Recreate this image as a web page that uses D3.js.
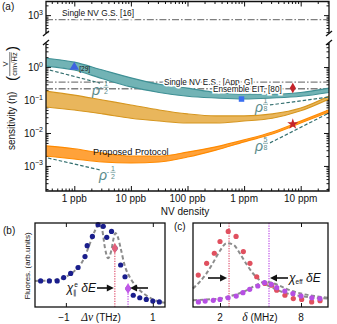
<!DOCTYPE html>
<html>
<head>
<meta charset="utf-8">
<script src="https://cdn.jsdelivr.net/npm/d3@7"></script>
<style>
  body { margin: 0; background: #fff; }
  text { font-family: "Liberation Sans", Arial, sans-serif; fill: #111; }
</style>
</head>
<body>
<div id="chart"></div>
<script>
// ---------- data: panel (a) ----------
const density = [0.316, 1, 3.16, 10, 31.6, 100, 316, 1000, 3162, 10000, 31623]; // ppb
const tealHi = [1.86, 1.41, 0.81, 0.47, 0.30, 0.23, 0.17, 0.15, 0.15, 0.17, 0.23];
const tealLo = [1.07, 0.81, 0.44, 0.25, 0.17, 0.13, 0.115, 0.107, 0.115, 0.13, 0.17];
const goldHi = [0.186, 0.141, 0.100, 0.071, 0.050, 0.038, 0.033, 0.033, 0.038, 0.057, 0.132];
const goldLo = [0.0617, 0.050, 0.038, 0.028, 0.023, 0.020, 0.020, 0.023, 0.028, 0.047, 0.107];
const protoHi = [0.00407, 0.00331, 0.00245, 0.00200, 0.00200, 0.00263, 0.00380, 0.00617, 0.0107, 0.0229, 0.0501];
const protoLo = [0.00200, 0.00162, 0.00132, 0.00123, 0.00132, 0.00186, 0.00302, 0.00537, 0.0093, 0.0200, 0.0437];

const refNames = ["Single NV G.S. [16]", "Single NV E.S., [App. G]", "Ensemble EIT, [80]"];
const refValues = [730, 0.35, 0.22];

const guideExp = [["-", "1", "2"], ["-", "1", "2"], ["", "1", "8"], ["", "5", "8"]];
const guideStart = [[0.37, 0.81], [0.343, 0.00174], [2866, 0.0708], [2866, 0.0050]];
const guideEnd = [[2.84, 0.327], [2.84, 0.00076], [31623, 0.123], [31623, 0.0405]];

const markerDensity = [1, 900, 7250, 7250];
const markerValue = [1.0, 0.107, 0.231, 0.0187];

const xTickVals = [1, 10, 100, 1000, 10000];
const xTickText = ["1 ppb", "10 ppb", "100 ppb", "1 ppm", "10 ppm"];
const yLoExp = [0, -1, -2, -3];
const yHiExp = [3];

// ---------- data: panel (b) ----------
const bDots = [[-1.58, 0.31], [-1.38, 0.31], [-1.20, 0.31], [-1.05, 0.35], [-0.89, 0.40], [-0.72, 0.47],
  [-0.56, 0.60], [-0.51, 0.73], [-0.39, 0.84], [-0.26, 0.98], [-0.14, 0.96], [-0.06, 0.83], [0.05, 0.90],
  [0.13, 0.70], [0.26, 0.50], [0.36, 0.36], [0.43, 0.22], [0.55, 0.14], [0.70, 0.11], [0.85, 0.09],
  [1.0, 0.07], [1.15, 0.06]];
const bFit = [[-1.71, 0.31], [-1.3, 0.32], [-1.0, 0.36], [-0.8, 0.43], [-0.6, 0.56], [-0.45, 0.75],
  [-0.32, 0.92], [-0.24, 0.99], [-0.17, 0.93], [-0.10, 0.70], [-0.03, 0.58], [0.04, 0.66], [0.10, 0.82],
  [0.14, 0.88], [0.19, 0.84], [0.26, 0.70], [0.35, 0.50], [0.5, 0.33], [0.7, 0.20], [0.9, 0.12],
  [1.1, 0.07], [1.28, 0.05]];
const bMarks = [[0.126, 0.70], [0.43, 0.22]];
const bTickVals = [-1, 1];

// ---------- data: panel (c) ----------
const cRed = [[0.39, 0.38], [1.01, 0.52], [1.58, 0.64], [2.0, 0.78], [2.61, 0.90], [3.19, 0.84], [3.73, 0.66],
  [4.22, 0.52], [4.72, 0.36], [5.33, 0.28], [5.83, 0.26], [6.2, 0.20], [6.81, 0.14], [7.43, 0.10],
  [8.05, 0.09], [8.79, 0.06], [9.41, 0.075]];
const cViolet = [[0.4, 0.06], [0.9, 0.07], [1.5, 0.08], [2.0, 0.09], [2.6, 0.11], [3.2, 0.13], [3.7, 0.17],
  [4.2, 0.21], [4.8, 0.25], [5.3, 0.29], [5.8, 0.27], [6.2, 0.23], [6.8, 0.19], [7.4, 0.16], [8.0, 0.13],
  [8.8, 0.11], [9.4, 0.10]];
const cFitRed = [[0, 0.22], [0.5, 0.30], [1, 0.40], [1.5, 0.53], [2, 0.67], [2.5, 0.76], [3, 0.74], [3.5, 0.63],
  [4, 0.50], [4.5, 0.39], [5, 0.31], [6, 0.22], [7, 0.16], [8, 0.13], [9, 0.11], [10, 0.10]];
const cFitViolet = [[0, 0.08], [1, 0.09], [2, 0.10], [3, 0.14], [4, 0.20], [4.8, 0.27], [5.4, 0.30], [6, 0.28],
  [7, 0.21], [8, 0.16], [9, 0.13], [10, 0.11]];
const cLines = [2.67, 5.63];
const cTickVals = [2, 8];

// ---------- svg ----------
const svg = d3.select("#chart").append("svg").attr("width", 337).attr("height", 324);

const x = d3.scaleLog().domain([Math.pow(10, -0.5), Math.pow(10, 4.5)]).range([46, 329]);
const yLo = d3.scaleLog().domain([Math.pow(10, -3.76), Math.pow(10, 0.73)]).range([191, 43]);
const yHi = d3.scaleLog().domain([Math.pow(10, 2.45), Math.pow(10, 3.42)]).range([33, 1.5]);

const isMajor = (v) => Math.abs(Math.log10(v) - Math.round(Math.log10(v))) < 1e-6;

svg.append("defs").append("clipPath").attr("id", "clipLo")
  .append("rect").attr("x", 46).attr("y", 43).attr("width", 283).attr("height", 148);
svg.append("defs").append("clipPath").attr("id", "clipHi")
  .append("rect").attr("x", 46).attr("y", 1.5).attr("width", 283).attr("height", 31.5);

// tick helper: inward ticks, no domain
function tickGroup(axisFn, scale, vals, size, tx, ty) {
  const g = svg.append("g").attr("transform", `translate(${tx},${ty})`)
    .call(axisFn(scale).tickValues(vals).tickSize(-size).tickFormat(""));
  g.select(".domain").remove();
  g.selectAll("line").attr("stroke", "#111").attr("stroke-width", 1);
  return g;
}

const xMinor = x.ticks().filter((v) => !isMajor(v));
const yLoMinor = yLo.ticks().filter((v) => !isMajor(v));
const yHiMinor = yHi.ticks().filter((v) => !isMajor(v));

tickGroup(d3.axisBottom, x, xMinor, 2.5, 0, 191);
tickGroup(d3.axisBottom, x, xTickVals, 5, 0, 191);
tickGroup(d3.axisTop, x, xMinor, 2.5, 0, 1.5);
tickGroup(d3.axisTop, x, xTickVals, 5, 0, 1.5);
tickGroup(d3.axisLeft, yLo, yLoMinor, 2.5, 46, 0);
tickGroup(d3.axisLeft, yLo, yLoExp.map((e) => Math.pow(10, e)), 5, 46, 0);
tickGroup(d3.axisRight, yLo, yLoMinor, 2.5, 329, 0);
tickGroup(d3.axisRight, yLo, yLoExp.map((e) => Math.pow(10, e)), 5, 329, 0);
tickGroup(d3.axisLeft, yHi, yHiMinor, 2.5, 46, 0);
tickGroup(d3.axisLeft, yHi, yHiExp.map((e) => Math.pow(10, e)), 5, 46, 0);
tickGroup(d3.axisRight, yHi, yHiMinor, 2.5, 329, 0);
tickGroup(d3.axisRight, yHi, yHiExp.map((e) => Math.pow(10, e)), 5, 329, 0);

// tick labels
svg.selectAll(".xlab").data(xTickVals).enter().append("text")
  .attr("x", (d) => x(d)).attr("y", 202).attr("text-anchor", "middle")
  .attr("font-size", 10).text((d, i) => xTickText[i]);
svg.append("text").attr("x", 185).attr("y", 215).attr("text-anchor", "middle")
  .attr("font-size", 10).text("NV density");

function powLabel(yPos, e) {
  const t = svg.append("text").attr("x", 43).attr("y", yPos + 4).attr("text-anchor", "end").attr("font-size", 10);
  t.append("tspan").text("10");
  t.append("tspan").attr("dy", -4.5).attr("font-size", 7).text(e < 0 ? "−" + (-e) : e);
}
yLoExp.forEach((e) => powLabel(yLo(Math.pow(10, e)), e));
yHiExp.forEach((e) => powLabel(yHi(Math.pow(10, e)), e));

// reference dash-dot lines (drawn under the bands)
const dashDot = "7,2,1.6,2";
svg.append("line").attr("clip-path", "url(#clipHi)")
  .attr("x1", 46).attr("x2", 329).attr("y1", yHi(refValues[0])).attr("y2", yHi(refValues[0]))
  .attr("stroke", "#7f7f7f").attr("stroke-width", 1.4).attr("stroke-dasharray", dashDot);
[1, 2].forEach((i) => {
  svg.append("line").attr("clip-path", "url(#clipLo)")
    .attr("x1", 46).attr("x2", 329).attr("y1", yLo(refValues[i])).attr("y2", yLo(refValues[i]))
    .attr("stroke", "#7f7f7f").attr("stroke-width", 1.4).attr("stroke-dasharray", dashDot);
});

// bands
function band(hi, lo, fill, edge) {
  const g = svg.append("g").attr("clip-path", "url(#clipLo)");
  const pts = density.map((d, i) => [d, hi[i], lo[i]]);
  g.append("path").datum(pts)
    .attr("d", d3.area().x((d) => x(d[0])).y0((d) => yLo(d[2])).y1((d) => yLo(d[1])).curve(d3.curveMonotoneX))
    .attr("fill", fill);
  [1, 2].forEach((k) => {
    g.append("path").datum(pts)
      .attr("d", d3.line().x((d) => x(d[0])).y((d) => yLo(d[k])).curve(d3.curveMonotoneX))
      .attr("fill", "none").attr("stroke", edge).attr("stroke-width", 1.1);
  });
}
band(tealHi, tealLo, "#72b3b5", "#3f9095");
band(goldHi, goldLo, "#e9b65c", "#d6961f");
band(protoHi, protoLo, "#ffa23a", "#ff8a00");

// scaling guides
guideStart.forEach((s, i) => {
  svg.append("line").attr("clip-path", "url(#clipLo)")
    .attr("x1", x(s[0])).attr("y1", yLo(s[1]))
    .attr("x2", x(guideEnd[i][0])).attr("y2", yLo(guideEnd[i][1]))
    .attr("stroke", "#336f6f").attr("stroke-width", 1.2).attr("stroke-dasharray", "3.5,2");
});

function rhoLabel(px, py, e) {
  const c = "#5b8c8c";
  const g = svg.append("g").attr("transform", `translate(${px},${py})`);
  g.append("text").attr("font-family", "Liberation Serif").attr("font-style", "italic")
    .attr("font-size", 14).style("fill", c).text("ρ");
  let ox = 7.5;
  if (e[0]) {
    g.append("text").attr("x", ox).attr("y", -6).attr("font-size", 8).style("fill", c).text("-");
    ox += 3.5;
  }
  g.append("text").attr("x", ox + 3).attr("y", -9).attr("font-size", 7).attr("text-anchor", "middle")
    .style("fill", c).text(e[1]);
  g.append("line").attr("x1", ox + 0.5).attr("x2", ox + 5.5).attr("y1", -7.7).attr("y2", -7.7)
    .attr("stroke", c).attr("stroke-width", 0.7);
  g.append("text").attr("x", ox + 3).attr("y", -1.5).attr("font-size", 7).attr("text-anchor", "middle")
    .style("fill", c).text(e[2]);
}
rhoLabel(92, 95, guideExp[0]);
rhoLabel(99, 180, guideExp[1]);
rhoLabel(255, 112, guideExp[2]);
rhoLabel(255, 151, guideExp[3]);

// markers
const markerSym = [d3.symbolTriangle, d3.symbolSquare, d3.symbolDiamond, d3.symbolStar];
const markerCol = ["#3e63e0", "#3a6ff0", "#c4242a", "#c4242a"];
const markerSize = [38, 30, 32, 38];
markerDensity.forEach((d, i) => {
  svg.append("path").attr("d", d3.symbol().type(markerSym[i]).size(markerSize[i])())
    .attr("transform", `translate(${x(d)},${yLo(markerValue[i])})`).attr("fill", markerCol[i]);
});

// annotation text
function halo(t) {
  return t.attr("stroke", "#fff").attr("stroke-width", 3).attr("paint-order", "stroke");
}
halo(svg.append("text").attr("x", 62).attr("y", 16).attr("font-size", 8.3).text(refNames[0]));
halo(svg.append("text").attr("x", 164).attr("y", 84.5).attr("font-size", 8.2).text(refNames[1]));
halo(svg.append("text").attr("x", 213).attr("y", 92).attr("font-size", 8.2).text(refNames[2]));
svg.append("text").attr("x", x(markerDensity[0]) + 5).attr("y", yLo(markerValue[0]) + 3.5)
  .attr("font-size", 6.5).text("[29]");
svg.append("text").attr("x", 93).attr("y", 155).attr("font-size", 9.2).text("Proposed Protocol");
svg.append("text").attr("x", 2).attr("y", 10).attr("font-size", 10).text("(a)");

// frame with axis break
const frame = svg.append("g").attr("fill", "none").attr("stroke", "#111").attr("stroke-width", 1.3);
frame.append("path").attr("d", "M46,33V1.5H329V33");
frame.append("path").attr("d", "M46,43V191H329V43");
[46, 329].forEach((bx) => {
  frame.append("line").attr("x1", bx - 3).attr("y1", 36).attr("x2", bx + 3).attr("y2", 31);
  frame.append("line").attr("x1", bx - 3).attr("y1", 45).attr("x2", bx + 3).attr("y2", 40);
});

// y label (a)
const yl = svg.append("g").attr("transform", "translate(15,150) rotate(-90)");
yl.append("text").attr("font-size", 10).text("sensitivity (η)");
yl.append("text").attr("x", 69).attr("y", 2).attr("font-size", 15).attr("font-weight", 300).text("(");
yl.append("text").attr("x", 86).attr("y", -7.5).attr("font-size", 7.5).attr("text-anchor", "middle").text("V");
yl.append("line").attr("x1", 74).attr("x2", 98).attr("y1", -5.2).attr("y2", -5.2).attr("stroke", "#111").attr("stroke-width", 0.6);
yl.append("text").attr("x", 86).attr("y", 2.3).attr("font-size", 7.5).attr("text-anchor", "middle").text("cm√Hz");
yl.append("line").attr("x1", 88.5).attr("x2", 97.5).attr("y1", -3.6).attr("y2", -3.6).attr("stroke", "#111").attr("stroke-width", 0.5);
yl.append("text").attr("x", 99).attr("y", 2).attr("font-size", 15).attr("font-weight", 300).text(")");

// ---------- panel (b) ----------
const xb = d3.scaleLinear().domain([-1.71, 1.28]).range([35, 165]);
const yb = d3.scaleLinear().domain([0, 1]).range([307, 223]);
const xc = d3.scaleLinear().domain([0, 10]).range([193, 328]);
const yc = d3.scaleLinear().domain([0, 1]).range([307, 223]);

function arrow(x1, y, x2) {
  const dir = x2 > x1 ? 1 : -1;
  svg.append("line").attr("x1", x1).attr("x2", x2 - dir * 5).attr("y1", y).attr("y2", y)
    .attr("stroke", "#111").attr("stroke-width", 1.6);
  svg.append("path").attr("d", `M${x2},${y}L${x2 - dir * 7},${y - 3.5}L${x2 - dir * 7},${y + 3.5}Z`).attr("fill", "#111");
}

const fitLine = (sx, sy) => d3.line().x((d) => sx(d[0])).y((d) => sy(d[1])).curve(d3.curveMonotoneX);

svg.append("path").datum(bFit).attr("d", fitLine(xb, yb)).attr("fill", "none")
  .attr("stroke", "#8c8c8c").attr("stroke-width", 2).attr("stroke-dasharray", "4,2.5");
svg.selectAll(".bdot").data(bDots).enter().append("circle")
  .attr("cx", (d) => xb(d[0])).attr("cy", (d) => yb(d[1])).attr("r", 2.6).attr("fill", "#1a1e8c");
const bCol = ["#e2607a", "#c158e8"];
bMarks.forEach((m, i) => {
  svg.append("line").attr("x1", xb(m[0])).attr("x2", xb(m[0])).attr("y1", yb(m[1])).attr("y2", 307)
    .attr("stroke", bCol[i]).attr("stroke-width", 1.3).attr("stroke-dasharray", "1.2,1.3");
  svg.append("path").attr("d", d3.symbol().type(d3.symbolDiamond).size(34)())
    .attr("transform", `translate(${xb(m[0])},${yb(m[1])})`).attr("fill", bCol[i]);
});
arrow(97, 288, xb(bMarks[0][0]) - 1);
arrow(148, 288, xb(bMarks[1][0]) + 2);
const chiB = svg.append("text").attr("x", 96).attr("y", 292).attr("text-anchor", "end")
  .attr("font-family", "Liberation Serif").attr("font-style", "italic").attr("font-size", 12);
chiB.append("tspan").text("χ");
chiB.append("tspan").attr("dy", 2.5).attr("font-size", 7).attr("font-style", "normal").text("∥");
chiB.append("tspan").attr("dx", -3).attr("dy", -8).attr("font-size", 6.5).attr("font-style", "normal").text("e");
chiB.append("tspan").attr("dy", 5.5).text(" δE");

tickGroup(d3.axisBottom, xb, bTickVals, 4, 0, 307);
tickGroup(d3.axisTop, xb, bTickVals, 4, 0, 223);
svg.append("rect").attr("x", 35).attr("y", 223).attr("width", 130).attr("height", 84)
  .attr("fill", "none").attr("stroke", "#111").attr("stroke-width", 1.3);
svg.selectAll(".blab").data(bTickVals).enter().append("text")
  .attr("x", (d) => xb(d) - (d < 0 ? 2 : 0)).attr("y", 321).attr("text-anchor", "middle")
  .attr("font-size", 10).text((d) => (d < 0 ? "−" + (-d) : d));
const bx = svg.append("text").attr("x", 101).attr("y", 321).attr("text-anchor", "middle").attr("font-size", 10);
bx.append("tspan").attr("font-family", "Liberation Serif").attr("font-style", "italic").attr("font-size", 11.5).text("Δν");
bx.append("tspan").text(" (THz)");
svg.append("text").attr("transform", "translate(30,266) rotate(-90)").attr("text-anchor", "middle")
  .attr("font-size", 8).text("Fluores. (arb.units)");
svg.append("text").attr("x", 3).attr("y", 234).attr("font-size", 10).text("(b)");

// ---------- panel (c) ----------
const cCol = ["#e2607a", "#c158e8"];
cLines.forEach((v, i) => {
  svg.append("line").attr("x1", xc(v)).attr("x2", xc(v)).attr("y1", 223).attr("y2", 307)
    .attr("stroke", cCol[i]).attr("stroke-width", 1.3).attr("stroke-dasharray", "1.2,1.3");
});
[cFitRed, cFitViolet].forEach((f) => {
  svg.append("path").datum(f).attr("d", fitLine(xc, yc)).attr("fill", "none")
    .attr("stroke", "#8c8c8c").attr("stroke-width", 2).attr("stroke-dasharray", "4,2.5");
});
svg.selectAll(".cred").data(cRed).enter().append("circle")
  .attr("cx", (d) => xc(d[0])).attr("cy", (d) => yc(d[1])).attr("r", 2.6).attr("fill", "#e0505f");
svg.selectAll(".cvio").data(cViolet).enter().append("circle")
  .attr("cx", (d) => xc(d[0])).attr("cy", (d) => yc(d[1])).attr("r", 2.6).attr("fill", "#b64fe3");
arrow(208, 278, xc(cLines[0]) - 2);
arrow(288, 278, xc(cLines[1]) + 1);
const chiC = svg.append("text").attr("x", 289).attr("y", 282)
  .attr("font-family", "Liberation Serif").attr("font-style", "italic").attr("font-size", 12);
chiC.append("tspan").text("χ");
chiC.append("tspan").attr("dy", 2).attr("font-size", 6.5).attr("font-style", "normal").text("eff");
chiC.append("tspan").attr("dy", -2).text(" δE");

tickGroup(d3.axisBottom, xc, cTickVals, 4, 0, 307);
tickGroup(d3.axisTop, xc, cTickVals, 4, 0, 223);
svg.append("rect").attr("x", 193).attr("y", 223).attr("width", 135).attr("height", 84)
  .attr("fill", "none").attr("stroke", "#111").attr("stroke-width", 1.3);
svg.selectAll(".clab").data(cTickVals).enter().append("text")
  .attr("x", (d) => xc(d)).attr("y", 321).attr("text-anchor", "middle").attr("font-size", 10).text((d) => d);
const cx = svg.append("text").attr("x", 260).attr("y", 321).attr("text-anchor", "middle").attr("font-size", 10);
cx.append("tspan").attr("font-family", "Liberation Serif").attr("font-style", "italic").attr("font-size", 11.5).text("δ");
cx.append("tspan").text(" (MHz)");
svg.append("text").attr("x", 174).attr("y", 230).attr("font-size", 10).text("(c)");
</script>
</body>
</html>
